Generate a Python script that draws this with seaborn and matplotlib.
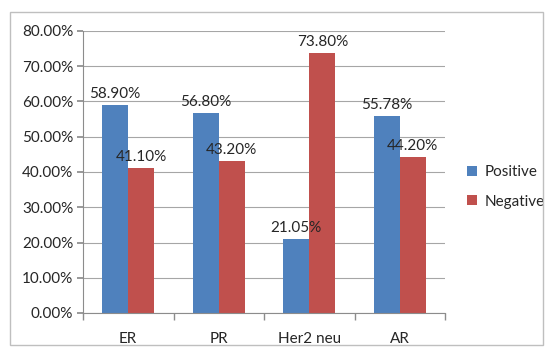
import matplotlib
matplotlib.use("Agg")
import matplotlib.pyplot as plt
import seaborn as sns
import pandas as pd
from matplotlib.patches import Rectangle
from matplotlib.ticker import FuncFormatter, FixedLocator

categories = ["ER", "PR", "Her2 neu", "AR"]
positive = [58.90, 56.80, 21.05, 55.78]
negative = [41.10, 43.20, 73.80, 44.20]
series = ["Positive", "Negative"]
yticks = [0, 10, 20, 30, 40, 50, 60, 70, 80]

df = pd.DataFrame({
    "cat": categories * 2,
    "val": positive + negative,
    "series": [series[0]] * 4 + [series[1]] * 4,
})

sns.set_theme(style="white")
plt.rcParams["font.family"] = ["Lato", "DejaVu Sans"]
FS = 11

fig = plt.figure(figsize=(5.47, 3.47), dpi=100)
ax = fig.add_axes([83/547, 1-313/347, (445-83)/547, (313-31)/347])

sns.barplot(data=df, x="cat", y="val", hue="series", order=categories,
            hue_order=series, palette=["#4F81BD", "#C0504D"], width=0.58,
            saturation=1, linewidth=0, ax=ax, legend=True)

for cont in ax.containers:
    ax.bar_label(cont, labels=[f"{v:.2f}%" for v in cont.datavalues],
                 padding=3, fontsize=FS, color="#262626")

ax.set_ylim(0, 80)
ax.set_xlim(-0.5, 3.5)
ax.yaxis.set_major_locator(FixedLocator(yticks))
ax.yaxis.set_major_formatter(FuncFormatter(lambda v, p: f"{v:.2f}%"))
ax.grid(axis="y", color="#A6A6A6", linewidth=0.8)
ax.set_axisbelow(True)
ax.set_xlabel("")
ax.set_ylabel("")
for s in ["top", "right"]:
    ax.spines[s].set_visible(False)
for s in ["left", "bottom"]:
    ax.spines[s].set_color("#8C8C8C")
    ax.spines[s].set_linewidth(0.8)
ax.tick_params(axis="y", left=True, length=4, color="#8C8C8C", labelsize=FS,
               labelcolor="#262626", pad=3)
ax.tick_params(axis="x", bottom=False, labelsize=FS, labelcolor="#262626", pad=8)
ax.set_xticks([-0.5, 0.5, 1.5, 2.5, 3.5], minor=True)
ax.tick_params(axis="x", which="minor", bottom=True, length=5, color="#8C8C8C")

leg = ax.legend(loc="center left", bbox_to_anchor=(1.028, 0.447), frameon=False,
                fontsize=FS, handlelength=0.6, handleheight=0.6,
                handletextpad=0.5, labelspacing=1.0, borderaxespad=0.4)
for t in leg.get_texts():
    t.set_color("#262626")

fig.patches.append(Rectangle((10/547, 0.005), 0.993 - 10/547, 1-12/347-0.005,
                             transform=fig.transFigure, fill=False,
                             edgecolor="#BFBFBF", linewidth=1))

fig.savefig("out.png", dpi=100)
